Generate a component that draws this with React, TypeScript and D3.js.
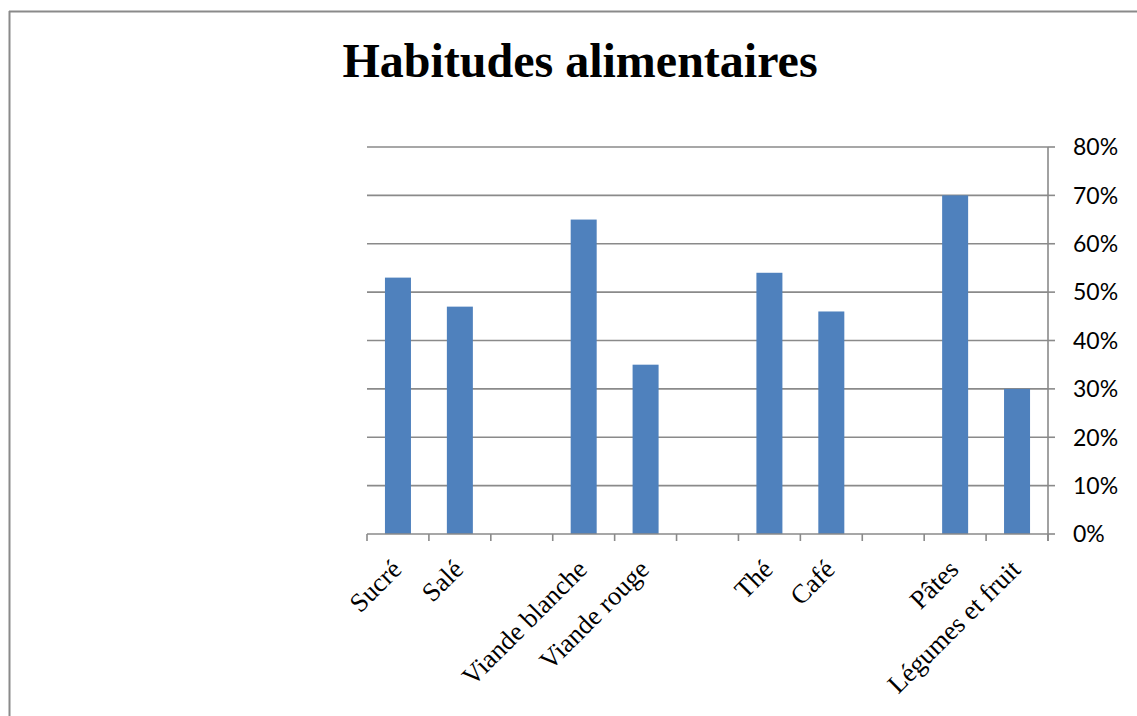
import React, { useEffect } from "react";
import * as d3 from "d3";

const categories: string[] = ["Sucré", "Salé", "", "Viande blanche", "Viande rouge", "", "Thé", "Café", "", "Pâtes", "Légumes et fruit"];
const values: (number | null)[] = [0.53, 0.47, null, 0.65, 0.35, null, 0.54, 0.46, null, 0.70, 0.30];
const yTicks: number[] = [0, 0.1, 0.2, 0.3, 0.4, 0.5, 0.6, 0.7, 0.8];
const title = "Habitudes alimentaires";

const W = 1137, H = 716;
const left = 367, right = 1048, top = 147, bottom = 534;

export default function App() {
  useEffect(() => {
    document.body.style.margin = "0";
  }, []);
  const x = d3.scaleBand<number>().domain(categories.map((_, i) => i)).range([left, right]).paddingInner(0).paddingOuter(0);
  const y = d3.scaleLinear().domain([0, 0.8]).range([bottom, top]);
  const bw = x.bandwidth();
  const barW = bw * 0.42;
  const fmt = d3.format(".0%");
  const grid = "#8a8a8a";
  const boundaries = categories.map((_, i) => x(i) as number).concat([right]);
  return (
    <svg width={W} height={H} style={{ display: "block" }}>
      <rect x={0} y={0} width={W} height={H} fill="#fff" />
      <line x1={9.5} y1={11} x2={9.5} y2={H} stroke="#8a8a8a" strokeWidth={2} />
      <line x1={9} y1={11.5} x2={W} y2={11.5} stroke="#8a8a8a" strokeWidth={2} />
      <text x={580} y={77} textAnchor="middle" fontFamily="'Liberation Serif', 'Times New Roman', serif" fontWeight="bold" fontSize={48} fill="#000">{title}</text>
      {yTicks.filter(t => t > 0).map(t => (
        <line key={"g" + t} x1={left} x2={right} y1={y(t)} y2={y(t)} stroke={grid} strokeWidth={1.6} />
      ))}
      {values.map((v, i) => v == null ? null : (
        <rect key={"b" + i} x={(x(i) as number) + (bw - barW) / 2} y={y(v)} width={barW} height={bottom - y(v)} fill="#4F81BD" />
      ))}
      <line x1={left} x2={right} y1={bottom} y2={bottom} stroke={grid} strokeWidth={1.6} />
      {boundaries.map((bx, i) => (
        <line key={"t" + i} x1={bx} x2={bx} y1={bottom} y2={bottom + 7} stroke={grid} strokeWidth={1.6} />
      ))}
      <line x1={right} x2={right} y1={top} y2={bottom + 7} stroke={grid} strokeWidth={1.6} />
      {yTicks.map(t => (
        <g key={"y" + t}>
          <line x1={right} x2={right + 7} y1={y(t)} y2={y(t)} stroke={grid} strokeWidth={1.6} />
          <text x={right + 25} y={y(t)} dy="0.36em" fontFamily="Lato, 'Open Sans', sans-serif" fontSize={23} fill="#000">{fmt(t)}</text>
        </g>
      ))}
      {categories.map((c, i) => c === "" ? null : (
        <text key={"c" + i} transform={`translate(${(x(i) as number) + bw / 2 + 5},${bottom + 37}) rotate(-45)`} textAnchor="end" fontFamily="'Liberation Serif', 'Times New Roman', serif" fontSize={26.5} fill="#000">{c}</text>
      ))}
    </svg>
  );
}
